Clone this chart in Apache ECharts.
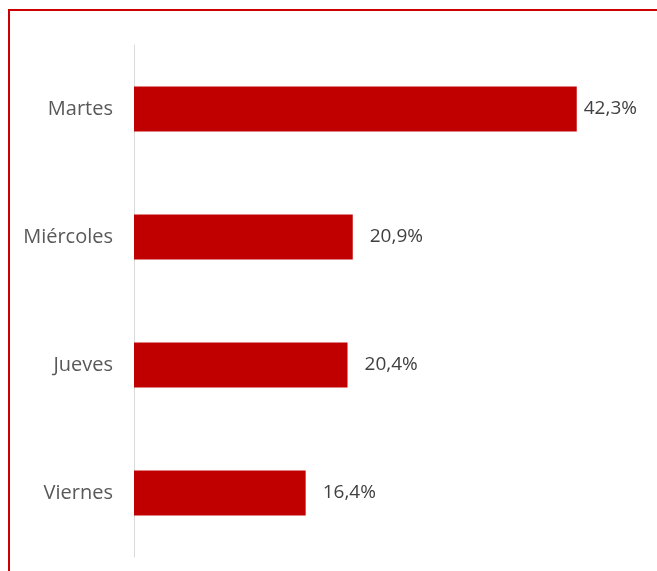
<!DOCTYPE html>
<html>
<head>
<meta charset="utf-8">
<script src="https://cdn.jsdelivr.net/npm/echarts@6/dist/echarts.min.js"></script>
<style>
  html, body { margin: 0; padding: 0; background: #fff; }
  #chart { width: 657px; height: 571px; }
</style>
</head>
<body>
<div id="chart"></div>
<script>
// Share of responses by weekday (top to bottom)
const days = ['Martes', 'Miércoles', 'Jueves', 'Viernes'];
const shares = [42.3, 20.9, 20.4, 16.4];

const chart = echarts.init(document.getElementById('chart'), null, { renderer: 'canvas' });

const fmt = v => v.toFixed(1).replace('.', ',') + '%';

// The longest bar's label is pulled in closer so it stays inside the frame
const barData = shares.map((v, i) => (
  i === 0 ? { value: v, label: { distance: 7 } } : { value: v }
));

chart.setOption({
  animation: false,
  backgroundColor: '#ffffff',
  textStyle: { fontFamily: '"Open Sans", "Noto Sans", sans-serif' },
  graphic: [{
    type: 'rect',
    shape: { x: 9, y: 10, width: 700, height: 600 },
    style: { fill: 'none', stroke: '#CC0000', lineWidth: 2 },
    silent: true
  }],
  grid: { left: 134, right: 52, top: 45, bottom: 14, containLabel: false },
  xAxis: {
    type: 'value',
    min: 0,
    max: 45,
    show: false
  },
  yAxis: {
    type: 'category',
    data: days,
    inverse: true,
    axisLine: { show: true, lineStyle: { color: '#d9d9d9', width: 1 } },
    axisTick: { show: false },
    axisLabel: { color: '#595959', fontSize: 20, margin: 21, padding: [3, 0, 0, 0] }
  },
  series: [{
    type: 'bar',
    data: barData,
    barWidth: 45,
    itemStyle: { color: '#C00000' },
    label: {
      show: true,
      position: 'right',
      distance: 17,
      color: '#404040',
      fontSize: 19,
      padding: [3, 0, 0, 0],
      formatter: p => fmt(p.value)
    }
  }]
});
</script>
</body>
</html>
